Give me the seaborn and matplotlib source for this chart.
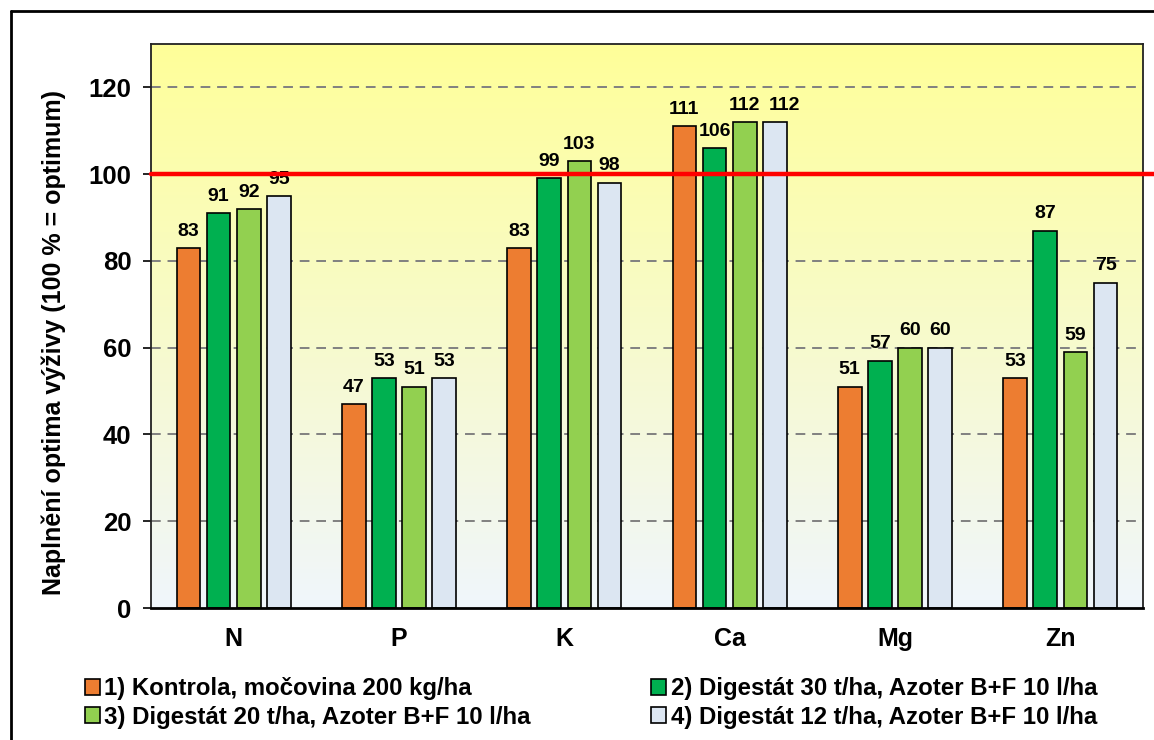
import numpy as np
import pandas as pd
import matplotlib.pyplot as plt
import matplotlib as mpl
from matplotlib.patches import Patch
from matplotlib.lines import Line2D
import seaborn as sns

# ---- data ----
nutrients = ['N', 'P', 'K', 'Ca', 'Mg', 'Zn']
treatments = ['1) Kontrola, močovina 200 kg/ha',
              '2) Digestát 30 t/ha, Azoter B+F 10 l/ha',
              '3) Digestát 20 t/ha, Azoter B+F 10 l/ha',
              '4) Digestát 12 t/ha, Azoter B+F 10 l/ha']
t1 = [83, 47, 83, 111, 51, 53]
t2 = [91, 53, 99, 106, 57, 87]
t3 = [92, 51, 103, 112, 60, 59]
t4 = [95, 53, 98, 112, 60, 75]
colors = ['#ED7D31', '#00B050', '#92D050', '#DCE6F2']
yticks = [0, 20, 40, 60, 80, 100, 120]
optimum = 100

df = pd.DataFrame({
    'prvek': nutrients * 4,
    'varianta': np.repeat(treatments, len(nutrients)),
    'hodnota': t1 + t2 + t3 + t4,
})

sns.set_style('white')
plt.rcParams['font.family'] = ['Liberation Sans', 'DejaVu Sans']
plt.rcParams.update({'font.weight': 'bold', 'text.color': 'black',
                     'axes.labelcolor': 'black', 'xtick.color': 'black',
                     'ytick.color': 'black'})

fig = plt.figure(figsize=(11.54, 7.40), dpi=100)
ax = fig.add_axes([151 / 1154, 1 - 608 / 740, 992 / 1154, 564 / 740])

# gradient background (yellow top -> pale blue bottom)
top = np.array([255, 255, 153]) / 255
bot = np.array([240, 246, 252]) / 255
t = np.linspace(0, 1, 256)[:, None]
grad = (top * (1 - t) + bot * t)[:, None, :]
ax.imshow(grad, aspect='auto', extent=[-0.5, 5.5, 0, 130], origin='upper', zorder=0)

for y in yticks[1:]:
    ax.axhline(y, color='#808080', lw=1.4, ls=(0, (5, 3.5)), zorder=1)

sns.barplot(data=df, x='prvek', y='hodnota', hue='varianta',
            palette=colors, saturation=1, edgecolor='black', linewidth=1.2,
            width=0.73, gap=0.22, legend=False, ax=ax, zorder=2)
ax.set_xlim(-0.5, 5.5)
ax.set_ylim(0, 130)

for k, c in enumerate(ax.containers):
    lbls = ax.bar_label(c, fmt='%.0f', padding=6, fontsize=14,
                        fontweight='bold', color='black')
    if k == 3:
        # in the original the last Ca label sits a bit to the right
        lbls[3].xyann = (7, 6)

# red optimum line extending past the plot area
ax.plot([0, 1.012], [optimum, optimum], color='#FF0000', lw=3.2,
        transform=ax.get_yaxis_transform(), clip_on=False, zorder=5)

ax.set_yticks(yticks)
ax.set_yticklabels([str(v) for v in yticks], fontsize=18.5, fontweight='bold')
ax.set_xticks(range(len(nutrients)))
ax.set_xticklabels(nutrients, fontsize=18, fontweight='bold')
ax.set_xticks(np.arange(-0.5, 6, 1), minor=True)
ax.tick_params(axis='x', which='major', length=0, pad=14)
ax.tick_params(axis='x', which='minor', length=6, width=1.5, color='black')
ax.tick_params(axis='y', length=6, width=1.2, color='black', pad=8, left=True)
ax.set_xlabel('')
ax.set_ylabel('Naplnění optima výživy (100 % = optimum)', fontsize=18,
              fontweight='bold')
ax.yaxis.set_label_coords(-0.086, 0.47)
for s in ax.spines.values():
    s.set_color('#222222')
    s.set_linewidth(1.3)
ax.spines['bottom'].set_color('black')
ax.spines['bottom'].set_linewidth(2)

# legend: row-wise order 1,2 / 3,4
handles = [Patch(facecolor=c, edgecolor='black', linewidth=1.2) for c in colors]
order = [0, 2, 1, 3]
fig.legend([handles[i] for i in order], [treatments[i] for i in order],
           ncol=2, loc='center left', bbox_to_anchor=(63 / 1154, 1 - 703 / 740),
           frameon=False, prop={'size': 17.3, 'weight': 'bold'},
           handlelength=0.62, handleheight=0.62, handletextpad=0.2,
           columnspacing=5.0, labelspacing=0.22)

# outer frame (clipped at right and bottom like the original)
fig.add_artist(Line2D([10.5 / 1154, 1.0], [1 - 11 / 740] * 2,
                      transform=fig.transFigure, color='black', lw=2))
fig.add_artist(Line2D([10.5 / 1154] * 2, [0.0, 1 - 11 / 740],
                      transform=fig.transFigure, color='black', lw=2))

fig.savefig('out.png', dpi=100)
